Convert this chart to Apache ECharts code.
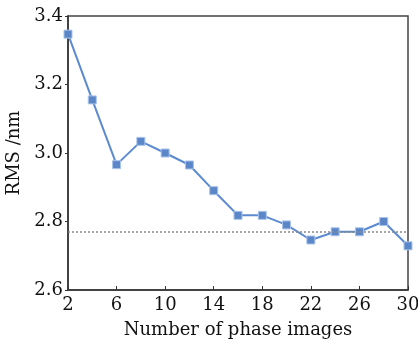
<!DOCTYPE html>
<html>
<head>
<meta charset="UTF-8">
<script src="https://cdn.jsdelivr.net/npm/echarts@6/dist/echarts.min.js"></script>
<style>
html,body{margin:0;padding:0;background:#fff;}
#chart{width:418px;height:341px;}
</style>
</head>
<body>
<div id="chart"></div>
<script>
// phase image counts and RMS values
var phaseCounts = [2, 4, 6, 8, 10, 12, 14, 16, 18, 20, 22, 24, 26, 28, 30];
var rmsValues = [3.347, 3.155, 2.966, 3.034, 3.0, 2.965, 2.89, 2.818, 2.818, 2.79, 2.746, 2.77, 2.77, 2.8, 2.729];
var refLevel = [2.765];
var xTicks = [2, 6, 10, 14, 18, 22, 26, 30];
var yTicks = [2.6, 2.8, 3.0, 3.2, 3.4];

var font = 'DejaVu Serif';
var chart = echarts.init(document.getElementById('chart'));

var pts = [];
for (var i = 0; i < phaseCounts.length; i++) {
    pts.push([phaseCounts[i], rmsValues[i]]);
}

chart.setOption({
    backgroundColor: '#ffffff',
    animation: false,
    grid: {
        left: 68, right: 10, top: 16, bottom: 51,
        outerBoundsMode: 'none',
        containLabel: false,
        show: true,
        borderColor: '#444',
        borderWidth: 1.5
    },
    xAxis: {
        type: 'value',
        min: 2, max: 30, interval: 4,
        name: 'Number of phase images',
        nameLocation: 'middle',
        nameGap: 31,
        nameTextStyle: { fontFamily: font, fontSize: 18, color: '#111' },
        axisLine: { lineStyle: { color: '#333', width: 1.5 } },
        axisTick: { inside: true, length: 4, lineStyle: { color: '#333' } },
        axisLabel: {
            fontFamily: font, fontSize: 18, color: '#111', margin: 6,
            formatter: function (v) { return xTicks.indexOf(v) >= 0 ? String(v) : ''; }
        },
        splitLine: { show: false }
    },
    yAxis: {
        type: 'value',
        min: 2.6, max: 3.4, interval: 0.2,
        name: 'RMS /nm',
        nameLocation: 'middle',
        nameGap: 41,
        nameTextStyle: { fontFamily: font, fontSize: 18, color: '#111' },
        axisLine: { show: true, lineStyle: { color: '#333', width: 1.5 } },
        axisTick: { show: true, length: 3, lineStyle: { color: '#333' } },
        axisLabel: {
            fontFamily: font, fontSize: 18, color: '#111', margin: 5,
            formatter: function (v) {
                for (var k = 0; k < yTicks.length; k++) {
                    if (Math.abs(yTicks[k] - v) < 1e-6) return yTicks[k].toFixed(1);
                }
                return '';
            }
        },
        splitLine: { show: false }
    },
    series: [
        {
            type: 'line',
            data: pts,
            symbol: 'rect',
            symbolSize: 8,
            lineStyle: { color: '#5b8ad0', width: 2 },
            itemStyle: { color: '#5b87c9', borderColor: '#a9c3ea', borderWidth: 1 },
            markLine: {
                silent: true,
                symbol: 'none',
                label: { show: false },
                lineStyle: { color: '#888', type: [2, 2], width: 1.5 },
                data: [{ yAxis: refLevel[0] }]
            }
        }
    ]
});
</script>
</body>
</html>
